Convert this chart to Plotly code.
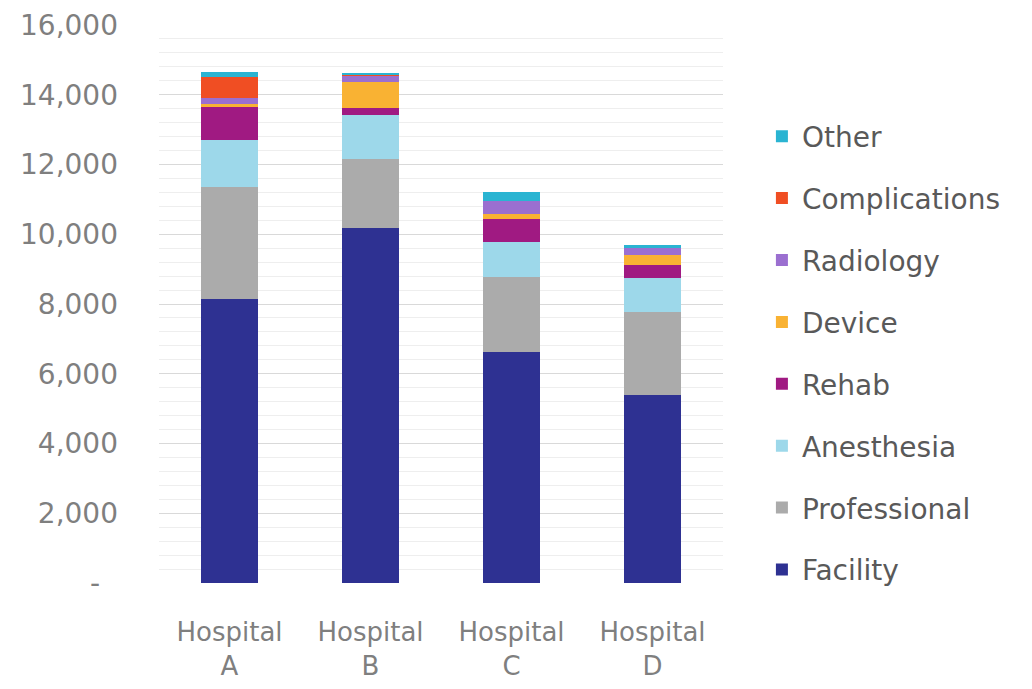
import plotly.graph_objects as go

categories = ["Hospital<br>A", "Hospital<br>B", "Hospital<br>C", "Hospital<br>D"]

series_names = ["Facility", "Professional", "Anesthesia", "Rehab", "Device",
                "Radiology", "Complications", "Other"]

facility = [8150, 10170, 6630, 5390]
professional = [3200, 2000, 2150, 2390]
anesthesia = [1350, 1250, 1000, 970]
rehab = [950, 190, 650, 360]
device = [80, 760, 160, 300]
radiology = [170, 170, 370, 200]
complications = [620, 20, 0, 0]
other = [120, 60, 260, 90]

series_values = [facility, professional, anesthesia, rehab, device,
                 radiology, complications, other]

colors = ["#2E3192", "#ABABAB", "#9DD8EA", "#A01A82", "#F9B233",
          "#9B6FD0", "#F04E23", "#2AB4D2"]

y_tickvals = [0, 2000, 4000, 6000, 8000, 10000, 12000, 14000, 16000]
y_ticktext = ["-\u00a0\u00a0", "2,000", "4,000", "6,000", "8,000", "10,000", "12,000",
              "14,000", "16,000"]

fig = go.Figure()
n = len(series_names)
for i, (name, vals, col) in enumerate(zip(series_names, series_values, colors)):
    fig.add_trace(go.Bar(
        x=categories, y=vals, name=name, legendgroup=name,
        legendrank=n - i,
        marker=dict(color=col, line=dict(width=0)),
    ))

fig.update_layout(
    barmode="stack",
    bargap=0.6,
    width=1024, height=681,
    margin=dict(l=151, r=309, t=17, b=106),
    plot_bgcolor="white", paper_bgcolor="white",
    font=dict(family="DejaVu Sans", color="#7f7f7f"),
    legend=dict(
        x=1.069, xanchor="left", y=0.845, yanchor="top",
        traceorder="grouped", tracegroupgap=22.5,
        font=dict(size=28, color="#595959"),
        itemwidth=30,
    ),
    showlegend=True,
)
fig.update_yaxes(
    range=[0, 16000], automargin=False,
    tickmode="array", tickvals=y_tickvals, ticktext=y_ticktext,
    tickfont=dict(size=28, color="#7f7f7f"),
    showgrid=True, gridcolor="#d9d9d9", gridwidth=1,
    zeroline=False, showline=False, ticks="", ticklabelstandoff=40,
    minor=dict(tick0=0, dtick=400, showgrid=True, gridcolor="#eeeeee", gridwidth=1),
)
fig.update_xaxes(
    automargin=False,
    tickfont=dict(size=26, color="#7f7f7f"),
    showline=False, ticks="", showgrid=False, ticklabelstandoff=31,
)

fig.write_html("out.html")
